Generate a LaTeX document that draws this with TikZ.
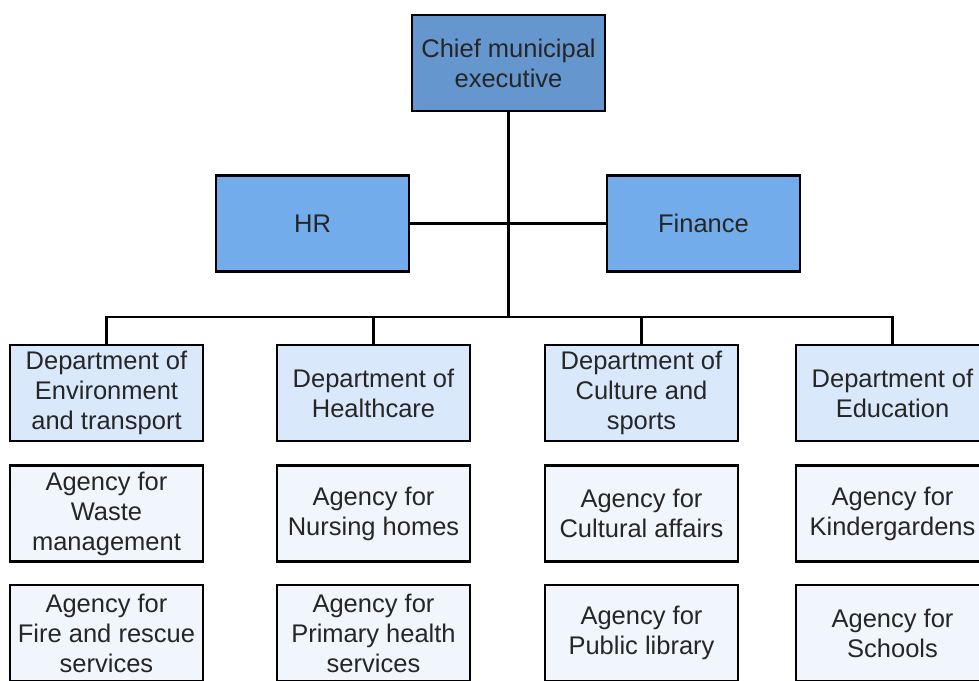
\documentclass[tikz,border=0pt]{standalone}
\usepackage{fontspec}
\setmainfont{Liberation Sans}
\begin{document}
\begin{tikzpicture}[x=1pt,y=-1pt,
  box/.style={draw=black, line width=2.4pt, minimum width=193pt, minimum height=96pt,
    inner sep=0pt, align=center, text=black!85, font=\fontsize{25.5}{30}\selectfont},
  top/.style={box, fill=chiefblue},
  staff/.style={box, fill=staffblue},
  dept/.style={box, fill=deptblue},
  agency/.style={box, fill=agencyblue},
  link/.style={draw=black, line width=2.4pt}]
\definecolor{chiefblue}{HTML}{6596CE}
\definecolor{staffblue}{HTML}{72ACEA}
\definecolor{deptblue}{HTML}{DAE8FC}
\definecolor{agencyblue}{HTML}{F1F5FC}
\useasboundingbox (0,0) rectangle (979,680);
\clip (0,0) rectangle (979,680);

% top level
\node[top] (chief) at (508.5,63) {Chief municipal\\executive};
\node[staff] (hr) at (312.5,223.5) {HR};
\node[staff] (fin) at (703.5,223.5) {Finance};

% departments
\node[dept] (d1) at (106.5,393) {Department of\\Environment\\and transport};
\node[dept] (d2) at (373.5,393) {Department of\\Healthcare};
\node[dept] (d3) at (641.5,393) {Department of\\Culture and\\sports};
\node[dept] (d4) at (892.5,393) {Department of\\Education};

% agencies
\node[agency] (a11) at (106.5,513.5) {Agency for\\Waste\\management};
\node[agency] (a12) at (106.5,633) {Agency for\\Fire and rescue\\services};
\node[agency] (a21) at (373.5,513.5) {Agency for\\Nursing homes};
\node[agency] (a22) at (373.5,633) {Agency for\\Primary health\\services};
\node[agency] (a31) at (641.5,513.5) {Agency for\\Cultural affairs};
\node[agency] (a32) at (641.5,633) {Agency for\\Public library};
\node[agency] (a41) at (892.5,513.5) {Agency for\\Kindergardens};
\node[agency] (a42) at (892.5,633) {Agency for\\Schools};

% connectors
\coordinate (bus) at (508.5,317);
\path[link] (hr.east) -- (fin.west);
\path[link] (chief.south) -- (bus);
\path[link] (d1.north) |- (bus) -| (d4.north);
\path[link] (d2.north) -- (d2.north |- bus);
\path[link] (d3.north) -- (d3.north |- bus);
\end{tikzpicture}
\end{document}
